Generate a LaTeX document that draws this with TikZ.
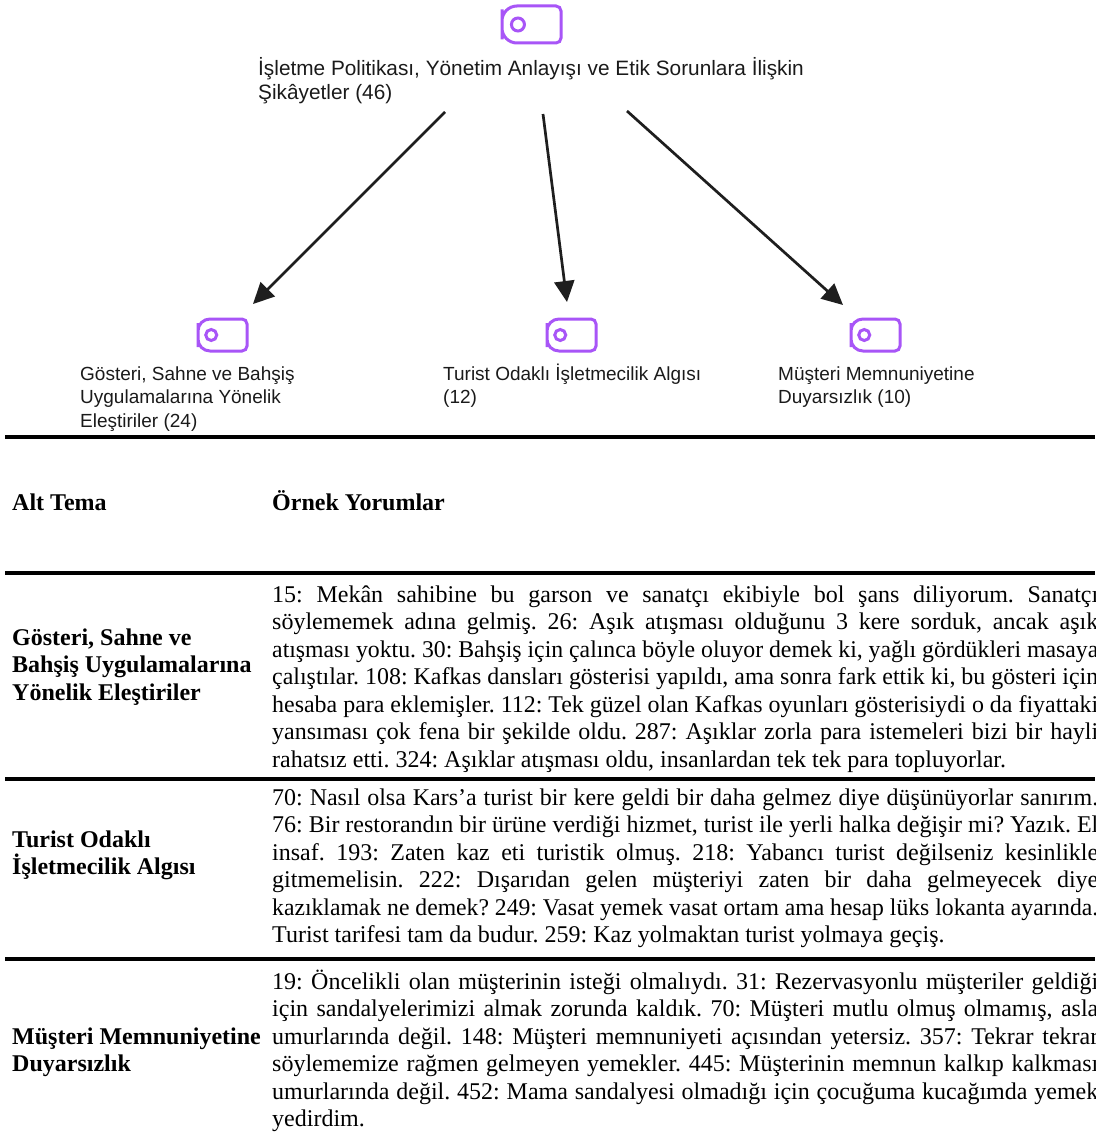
\documentclass[tikz,border=0pt]{standalone}
\usepackage{fontspec}
\usepackage{graphicx}
\setmainfont{Liberation Serif}
\newfontfamily\uisans{Liberation Sans}
\usetikzlibrary{arrows.meta,calc}
\frenchspacing

\definecolor{tagpurple}{HTML}{A855F7}
\definecolor{arrowink}{HTML}{1E1E1E}
\definecolor{inkgray}{HTML}{1A1A1A}

% justified table lines: stretched to the column, or squeezed when too long
\newlength\colw
\setlength\colw{826pt}
\newsavebox\linebox
\newcommand\fullln[1]{\sbox\linebox{#1}%
  \ifdim\wd\linebox>\colw
    \hbox{\resizebox{\colw}{\height}{\usebox\linebox}}%
  \else
    \hbox to \colw{#1}%
  \fi}
\newcommand\lastln[1]{\hbox{#1}}
\newcommand\stacklines[2]{\vtop{\baselineskip=#1\lineskiplimit=-100pt\lineskip=0pt #2}}

% tag-shaped icon drawn over an empty node
\newcommand\tagicon[3]{%
  \draw[tagline] (#1.west) [rounded corners=#2] -- (#1.north west) -- (#1.north)
    [rounded corners=5pt] -- (#1.north east) -- (#1.south east) -- (#1.south)
    [rounded corners=#2] -- (#1.south west) -- cycle;
  \draw[tagline] ($(#1.west)!0.27!(#1.east)$) circle[radius=#3];}

\tikzset{
  tagline/.style={draw=tagpurple, line width=3pt},
  iconbox/.style={inner sep=0, outer sep=0, minimum width=#1},
  flowarrow/.style={draw=arrowink, line width=2.7pt,
    -{Triangle[length=21pt,width=20pt]}},
  uititle/.style={anchor=base west, inner sep=0, text=inkgray,
    font=\uisans\fontsize{20.8pt}{24pt}\selectfont},
  uitext/.style={anchor=base west, inner sep=0, text=inkgray,
    font=\uisans\fontsize{19pt}{23.5pt}\selectfont},
  bodytext/.style={anchor=base west, inner sep=0, text=black,
    font=\fontsize{24pt}{27.5pt}\selectfont},
  labeltext/.style={anchor=base west, inner sep=0, text=black,
    font=\bfseries\fontsize{24pt}{27.5pt}\selectfont},
  tablerule/.style={draw=black, line width=#1},
}

\begin{document}
\begin{tikzpicture}[x=1pt,y=-1pt]
\useasboundingbox (0,0) rectangle (1095,1137);
\clip (0,0) rectangle (1095,1137);

% ---------- theme tree ----------
\node[iconbox=59pt, minimum height=37pt] (ictop) at (531.5,24.5) {};
\tagicon{ictop}{15pt}{6.5pt}
\node[uititle] (title) at (258,76) {\stacklines{24pt}{%
  \hbox{İşletme Politikası, Yönetim Anlayışı ve Etik Sorunlara İlişkin}%
  \hbox{Şikâyetler (46)}}};

\node[iconbox=49pt, minimum height=32pt] (icA) at (222.5,335) {};
\node[iconbox=49pt, minimum height=32pt] (icB) at (571.5,335) {};
\node[iconbox=49pt, minimum height=32pt] (icC) at (875.5,335) {};
\tagicon{icA}{12pt}{5.5pt}
\tagicon{icB}{12pt}{5.5pt}
\tagicon{icC}{12pt}{5.5pt}

\node[uitext] (labA) at (80,380) {\stacklines{23.5pt}{%
  \hbox{Gösteri, Sahne ve Bahşiş}%
  \hbox{Uygulamalarına Yönelik}%
  \hbox{Eleştiriler (24)}}};
\node[uitext] (labB) at (443,380) {\stacklines{23.5pt}{%
  \hbox{Turist Odaklı İşletmecilik Algısı}%
  \hbox{(12)}}};
\node[uitext] (labC) at (778,380) {\stacklines{23.5pt}{%
  \hbox{Müşteri Memnuniyetine}%
  \hbox{Duyarsızlık (10)}}};

\coordinate (sA) at (445,112);  \coordinate (eA) at (253,304);
\coordinate (sB) at (543,114);  \coordinate (eB) at (567,302);
\coordinate (sC) at (627,111);  \coordinate (eC) at (843,305);
\draw[flowarrow] (sA) -- (eA);
\draw[flowarrow] (sB) -- (eB);
\draw[flowarrow] (sC) -- (eC);

% ---------- table ----------
\draw[tablerule=3.6pt] (5,437) -- (1095,437);
\node[labeltext] (hA) at (12,510) {Alt Tema};
\node[labeltext] (hB) at (272,510) {Örnek Yorumlar};
\draw[tablerule=3.4pt] (5,573) -- (1095,573);

% row 1
\node[labeltext] (rowA) at (12,645) {\stacklines{27.5pt}{%
  \hbox{Gösteri, Sahne ve}%
  \hbox{Bahşiş Uygulamalarına}%
  \hbox{Yönelik Eleştiriler}}};
\node[bodytext] (txtA) at (272,602) {\stacklines{27.5pt}{%
  \fullln{15: Mekân sahibine bu garson ve sanatçı ekibiyle bol şans diliyorum. Sanatçı}%
  \fullln{söylememek adına gelmiş. 26: Aşık atışması olduğunu 3 kere sorduk, ancak aşık}%
  \fullln{atışması yoktu. 30: Bahşiş için çalınca böyle oluyor demek ki, yağlı gördükleri masaya}%
  \fullln{çalıştılar. 108: Kafkas dansları gösterisi yapıldı, ama sonra fark ettik ki, bu gösteri için}%
  \fullln{hesaba para eklemişler. 112: Tek güzel olan Kafkas oyunları gösterisiydi o da fiyattaki}%
  \fullln{yansıması çok fena bir şekilde oldu. 287: Aşıklar zorla para istemeleri bizi bir hayli}%
  \lastln{rahatsız etti. 324: Aşıklar atışması oldu, insanlardan tek tek para topluyorlar.}}};
\draw[tablerule=3.4pt] (5,779) -- (1095,779);

% row 2
\node[labeltext] (rowB) at (12,847) {\stacklines{27.5pt}{%
  \hbox{Turist Odaklı}%
  \hbox{İşletmecilik Algısı}}};
\node[bodytext] (txtB) at (272,805) {\stacklines{27.5pt}{%
  \fullln{70: Nasıl olsa Kars’a turist bir kere geldi bir daha gelmez diye düşünüyorlar sanırım.}%
  \fullln{76: Bir restorandın bir ürüne verdiği hizmet, turist ile yerli halka değişir mi? Yazık. El}%
  \fullln{insaf. 193: Zaten kaz eti turistik olmuş. 218: Yabancı turist değilseniz kesinlikle}%
  \fullln{gitmemelisin. 222: Dışarıdan gelen müşteriyi zaten bir daha gelmeyecek diye}%
  \fullln{kazıklamak ne demek? 249: Vasat yemek vasat ortam ama hesap lüks lokanta ayarında.}%
  \lastln{Turist tarifesi tam da budur. 259: Kaz yolmaktan turist yolmaya geçiş.}}};
\draw[tablerule=3.4pt] (5,959) -- (1095,959);

% row 3
\node[labeltext] (rowC) at (12,1044) {\stacklines{27.5pt}{%
  \hbox{Müşteri Memnuniyetine}%
  \hbox{Duyarsızlık}}};
\node[bodytext] (txtC) at (272,989) {\stacklines{27.5pt}{%
  \fullln{19: Öncelikli olan müşterinin isteği olmalıydı. 31: Rezervasyonlu müşteriler geldiği}%
  \fullln{için sandalyelerimizi almak zorunda kaldık. 70: Müşteri mutlu olmuş olmamış, asla}%
  \fullln{umurlarında değil. 148: Müşteri memnuniyeti açısından yetersiz. 357: Tekrar tekrar}%
  \fullln{söylememize rağmen gelmeyen yemekler. 445: Müşterinin memnun kalkıp kalkması}%
  \fullln{umurlarında değil. 452: Mama sandalyesi olmadığı için çocuğuma kucağımda yemek}%
  \lastln{yedirdim.}}};
\end{tikzpicture}
\end{document}
